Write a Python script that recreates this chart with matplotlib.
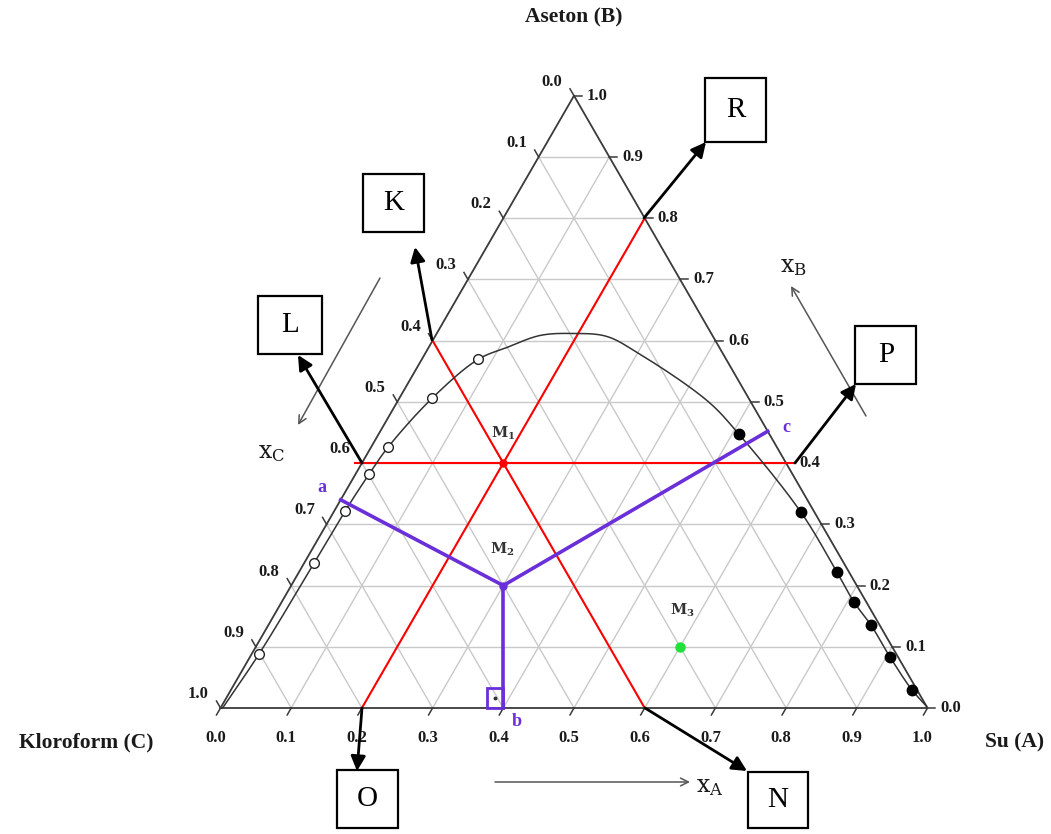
import numpy as np
import matplotlib
matplotlib.use("Agg")
import matplotlib.pyplot as plt
from matplotlib.patches import Rectangle

plt.rcParams['mathtext.fontset'] = 'dejavuserif'

# ---------------- data ----------------
ticks = [0.0, 0.1, 0.2, 0.3, 0.4, 0.5, 0.6, 0.7, 0.8, 0.9, 1.0]
tick_labels = ['0.0', '0.1', '0.2', '0.3', '0.4', '0.5', '0.6', '0.7', '0.8', '0.9', '1.0']

# binodal curve (xA, xB)
curve_xA = [0.003, 0.0104, 0.0140, 0.0154, 0.0192, 0.0240, 0.0463, 0.0796, 0.111, 0.148,
            0.1928, 0.2424, 0.2987, 0.4391, 0.5099, 0.6612, 0.7610, 0.8096, 0.8524,
            0.9054, 0.9634, 0.997]
curve_xB = [0.0, 0.0881, 0.2365, 0.3214, 0.3817, 0.4258, 0.5057, 0.5693, 0.589, 0.6085,
            0.6117, 0.6070, 0.5808, 0.5008, 0.4470, 0.3197, 0.2219, 0.1729, 0.1354,
            0.0832, 0.0294, 0.003]

# open circles (chloroform-rich phase)
open_xA = [0.0104, 0.0140, 0.0154, 0.0192, 0.0240, 0.0463, 0.0796]
open_xB = [0.0881, 0.2365, 0.3214, 0.3817, 0.4258, 0.5057, 0.5693]
# filled circles (water-rich phase)
fill_xA = [0.5099, 0.6612, 0.7610, 0.8096, 0.8524, 0.9054, 0.9634]
fill_xB = [0.4470, 0.3197, 0.2219, 0.1729, 0.1354, 0.0832, 0.0294]

# mixture points (xA, xB)
M1 = (0.2, 0.4)
M2 = (0.3, 0.2)
M3 = (0.6, 0.1)
pt_a = (0.0, 0.34)
pt_c = (0.548, 0.452)

# red construction lines through M1 (xA, xB) endpoints
red_h = [(-0.01, 0.4), (0.613, 0.4)]     # xB = 0.4
red_A = [(0.2, 0.0), (0.2, 0.8)]         # xA = 0.2
red_C = [(0.0, 0.6), (0.6, 0.0)]         # xC = 0.4

SQ = np.sqrt(3) / 2


def tern(a, b):
    a = np.asarray(a, float)
    b = np.asarray(b, float)
    return a + b / 2, b * SQ


def px(x, y):
    return (x - 220.5) / 707, (708 - y) / 707


def smooth(x, y, n=20):
    """Centripetal Catmull-Rom rendering through the given points."""
    P = np.column_stack([x, y])
    P = np.vstack([2 * P[0] - P[1], P, 2 * P[-1] - P[-2]])
    out = []
    for i in range(1, len(P) - 2):
        p0, p1, p2, p3 = P[i - 1], P[i], P[i + 1], P[i + 2]
        t0 = 0.0
        t1 = t0 + np.linalg.norm(p1 - p0) ** 0.5
        t2 = t1 + np.linalg.norm(p2 - p1) ** 0.5
        t3 = t2 + np.linalg.norm(p3 - p2) ** 0.5
        t = np.linspace(t1, t2, n)[:, None]
        A1 = (t1 - t) / (t1 - t0) * p0 + (t - t0) / (t1 - t0) * p1
        A2 = (t2 - t) / (t2 - t1) * p1 + (t - t1) / (t2 - t1) * p2
        A3 = (t3 - t) / (t3 - t2) * p2 + (t - t2) / (t3 - t2) * p3
        B1 = (t2 - t) / (t2 - t0) * A1 + (t - t0) / (t2 - t0) * A2
        B2 = (t3 - t) / (t3 - t1) * A2 + (t - t1) / (t3 - t1) * A3
        C = (t2 - t) / (t2 - t1) * B1 + (t - t1) / (t2 - t1) * B2
        out.append(C)
    C = np.vstack(out)
    return C[:, 0], C[:, 1]


fig = plt.figure(figsize=(10.51, 8.34), dpi=100)
ax = fig.add_axes([0, 0, 1, 1])
ax.set_xlim(-220.5 / 707, (1051 - 220.5) / 707)
ax.set_ylim(-(834 - 708) / 707, 708 / 707)
ax.axis('off')

GRID = '#c9c9c9'
EDGE = '#3a3a3a'
PURPLE = '#6a2fd8'
SERIF = 'Liberation Serif'
TXT = '#1a1a1a'

# grid
for v in ticks[1:-1]:
    x, y = tern([v, v], [0, 1 - v]); ax.plot(x, y, color=GRID, lw=1.0, zorder=1)
    x, y = tern([0, 1 - v], [v, v]); ax.plot(x, y, color=GRID, lw=1.0, zorder=1)
    x, y = tern([1 - v, 0], [0, 1 - v]); ax.plot(x, y, color=GRID, lw=1.0, zorder=1)

# triangle
x, y = tern([0, 1, 0, 0], [0, 0, 1, 0])
ax.plot(x, y, color=EDGE, lw=1.3, zorder=3)

# ticks and labels
L = 8 / 707
for v, lab in zip(ticks, tick_labels):
    x0, y0 = tern(v, 0)
    ax.plot([x0, x0 - 0.5 * L], [y0, y0 - SQ * L], color=EDGE, lw=1.1, zorder=3)
    ax.text(x0 - 5 / 707, y0 - 30 / 707, lab, ha='center', va='center', fontsize=12,
            fontweight='bold', family=SERIF, color=TXT)
    x0, y0 = tern(1 - v, v)
    ax.plot([x0, x0 + L], [y0, y0], color=EDGE, lw=1.1, zorder=3)
    ax.text(x0 + 13 / 707, y0, lab, ha='left', va='center', fontsize=12,
            fontweight='bold', family=SERIF, color=TXT)
    x0, y0 = tern(0, 1 - v)
    ax.plot([x0, x0 - 0.5 * L], [y0, y0 + SQ * L], color=EDGE, lw=1.1, zorder=3)
    ax.text(x0 - 22 / 707, y0 + 14 / 707, lab, ha='center', va='center', fontsize=12,
            fontweight='bold', family=SERIF, color=TXT)

# red lines
for seg in (red_h, red_A, red_C):
    x, y = tern([p[0] for p in seg], [p[1] for p in seg])
    ax.plot(x, y, color='#ff0000', lw=1.5, zorder=4)

# binodal curve
x, y = tern(curve_xA, curve_xB)
sx, sy = smooth(x, y)
ax.plot(sx, sy, color='#333333', lw=1.1, zorder=5)
x, y = tern(open_xA, open_xB)
ax.plot(x, y, 'o', ms=7, mfc='white', mec='#222222', mew=1.0, zorder=6)
x, y = tern(fill_xA, fill_xB)
ax.plot(x, y, 'o', ms=7.5, mfc='black', mec='black', zorder=6)

# purple tie construction
mx, my = tern(*M2)
for p in (pt_a, pt_c):
    x, y = tern([M2[0], p[0]], [M2[1], p[1]])
    ax.plot(x, y, color=PURPLE, lw=2.6, zorder=7)
ax.plot([mx, mx], [my, 0], color=PURPLE, lw=2.6, zorder=7)
ax.add_patch(Rectangle((mx - 16 / 707, 0), 16 / 707, 20 / 707, fill=False,
                       ec=PURPLE, lw=2.0, zorder=7))
ax.plot(mx - 8 / 707, 10 / 707, 'o', ms=1.8, color='#333333', zorder=8)

# mixture points
x, y = tern(*M1); ax.plot(x, y, 'o', ms=5, color='#ff0000', zorder=8)
x, y = tern(*M2); ax.plot(x, y, 'o', ms=5, color=PURPLE, zorder=8)
x, y = tern(*M3); ax.plot(x, y, 'o', ms=6.5, color='#22e03a', zorder=8)

for lab, (xx, yy) in ((r'$\mathbf{M_1}$', (503, 433)), (r'$\mathbf{M_2}$', (502, 549)),
                      (r'$\mathbf{M_3}$', (682, 610))):
    ax.text(*px(xx, yy), lab, ha='center', va='center', fontsize=10.5, color='#333333')

for lab, (xx, yy) in (('a', (322, 487)), ('c', (786, 428)), ('b', (517, 721))):
    ax.text(*px(xx, yy), lab, ha='center', va='center', fontsize=13, fontweight='bold',
            family=SERIF, color=PURPLE)

# titles
ax.text(*px(574, 17), 'Aseton (B)', ha='center', va='center', fontsize=15.5,
        fontweight='bold', family=SERIF, color=TXT)
ax.text(*px(86, 742), 'Kloroform (C)', ha='center', va='center', fontsize=15.5,
        fontweight='bold', family=SERIF, color=TXT)
ax.text(*px(1015, 742), 'Su (A)', ha='center', va='center', fontsize=15.5,
        fontweight='bold', family=SERIF, color=TXT)

# axis direction arrows
for (s, e) in (((380, 278), (298, 425)), ((866, 416), (791, 286)), ((495, 782), (690, 782))):
    ax.annotate('', xy=px(*e), xytext=px(*s),
                arrowprops=dict(arrowstyle='->', color='#555555', lw=1.1,
                                shrinkA=0, shrinkB=0, mutation_scale=14))
for lab, (xx, yy) in ((r'$\mathrm{x_C}$', (272, 452)), (r'$\mathrm{x_B}$', (793, 266)),
                      (r'$\mathrm{x_A}$', (710, 786))):
    ax.text(*px(xx, yy), lab, ha='center', va='center', fontsize=17, color=TXT)

# boxed letters with arrows
boxes = [
    ('K', (393.5, 203), (61, 58), (432, 340), (415, 247)),
    ('L', (290, 325), (64, 58), (362, 463), (298, 355)),
    ('R', (736, 110), (61, 64), (644, 218), (706, 142)),
    ('P', (886, 355), (61, 58), (795, 463), (856, 384)),
    ('O', (367.5, 799), (61, 58), (362, 708), (357, 771)),
    ('N', (778, 800), (60, 56), (645, 708), (747, 771)),
]
for lab, (cx, cy), (w, h), start, tip in boxes:
    x0, y0 = px(cx - w / 2, cy + h / 2)
    ax.add_patch(Rectangle((x0, y0), w / 707, h / 707, fc='white', ec='black', lw=1.6, zorder=9))
    ax.text(*px(cx, cy), lab, ha='center', va='center', fontsize=21, family=SERIF,
            color='black', zorder=10)
    ax.annotate('', xy=px(*tip), xytext=px(*start),
                arrowprops=dict(arrowstyle='-|>', color='black', lw=2.0,
                                shrinkA=0, shrinkB=0, mutation_scale=22), zorder=9)

fig.savefig('out.png', dpi=100)
